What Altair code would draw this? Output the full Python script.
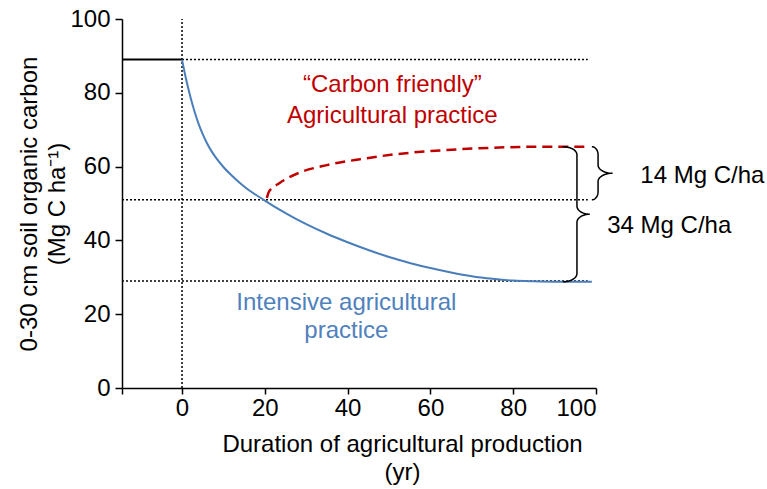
import altair as alt
import numpy as np
import pandas as pd

# Intensive agricultural practice (blue solid)
blue_x = [0, 1, 2, 3, 4, 5, 6, 7, 8, 10, 12, 15, 20, 25, 30, 35, 40, 45, 50, 55, 60, 65, 70, 75, 80, 85, 90, 95, 99]
blue_y = [89, 83.6, 79.0, 75.0, 71.6, 68.8, 66.4, 64.4, 62.7, 59.9, 57.6, 54.6, 50.8, 47.4, 44.4, 41.8, 39.5, 37.4, 35.5, 33.9, 32.5, 31.3, 30.3, 29.6, 29.1, 28.9, 28.8, 28.8, 28.8]

# "Carbon friendly" practice (red dashed)
red_x = [20.5, 21, 23.5, 28, 35, 43, 52, 64, 75, 86, 98]
red_y = [51.5, 53.2, 55.5, 58.2, 60.4, 62, 63.4, 64.5, 65.1, 65.4, 65.4]

# Pre-conversion level (black solid)
pre_x = [-14.5, 0]
pre_y = [89, 89]

# Dotted reference lines
h_y = [89, 51, 29]
h_x1 = [0, -14.5, -14.5]
h_x2 = [98, 98, 98]
v_x = [0]

# Annotations
ann_text = ["\u201cCarbon friendly\u201d", "Agricultural practice", "Intensive agricultural", "practice"]
ann_x = [50.8, 50.8, 39.7, 39.7]
ann_y = [82.1, 73.7, 23.0, 15.4]
ann_col = ["#C00000", "#C00000", "#4F81BD", "#4F81BD"]

brace_labels = ["14 Mg C/ha", "34 Mg C/ha"]
brace_lab_x = [110.7, 102.7]
brace_lab_y = [57.5, 43.9]
brace_top = [65.4, 65.4]
brace_bot = [51, 28.8]
brace_xend = [99, 92]
brace_xspine = [100.5, 95.4]
brace_xtip = [104, 98.5]

x_dom = [-14.5, 100]
y_dom = [0, 100]


def brace_points(x_end, x_spine, x_tip, y_top, y_bot, ry=2.2, n=12):
    ym = (y_top + y_bot) / 2
    rx1 = x_spine - x_end
    rx2 = x_tip - x_spine
    xs, ys = [], []
    t = np.linspace(np.pi / 2, 0, n)
    xs += list(x_end + rx1 * np.cos(t)); ys += list(y_top - ry + ry * np.sin(t))
    t = np.linspace(np.pi, 1.5 * np.pi, n)
    xs += list(x_tip + rx2 * np.cos(t)); ys += list(ym + ry + ry * np.sin(t))
    t = np.linspace(0.5 * np.pi, np.pi, n)
    xs += list(x_tip + rx2 * np.cos(t)); ys += list(ym - ry + ry * np.sin(t))
    t = np.linspace(0, -0.5 * np.pi, n)
    xs += list(x_end + rx1 * np.cos(t)); ys += list(y_bot + ry + ry * np.sin(t))
    return xs, ys


rows = []
for i in range(len(brace_top)):
    bx, by = brace_points(brace_xend[i], brace_xspine[i], brace_xtip[i], brace_top[i], brace_bot[i])
    for k, (a, b) in enumerate(zip(bx, by)):
        rows.append({"x": a, "y": b, "id": i, "o": k})
brace_df = pd.DataFrame(rows)

FONT = "Liberation Sans"
FS = 24
xs = alt.Scale(domain=x_dom, nice=False, zero=False)
ys = alt.Scale(domain=y_dom, nice=False, zero=False)

blue_df = pd.DataFrame({"x": blue_x, "y": blue_y})
red_df = pd.DataFrame({"x": red_x, "y": red_y})
pre_df = pd.DataFrame({"x": pre_x, "y": pre_y})
h_df = pd.DataFrame({"y": h_y, "x1": h_x1, "x2": h_x2})
v_df = pd.DataFrame({"x": v_x, "y1": [0], "y2": [100]})
ann_df = pd.DataFrame({"t": ann_text, "x": ann_x, "y": ann_y, "c": ann_col})
blab_df = pd.DataFrame({"t": brace_labels, "x": brace_lab_x, "y": brace_lab_y})

x_axis = alt.Axis(
    values=[-14.5, 0, 20, 40, 60, 80, 100],
    labelExpr="datum.value < 0 ? '' : datum.label",
    title=["Duration of agricultural production", "(yr)"],
    titleX=280, titleY=63, titleAlign="center", titleBaseline="alphabetic",
    titleLineHeight=28, tickSize=6, labelPadding=2,
)
y_axis = alt.Axis(
    values=[0, 20, 40, 60, 80, 100],
    title=["0-30 cm soil organic carbon", "(Mg C ha\u207b\u00b9)"],
    titleX=-86, titleY=184.5, titleAngle=270, titleAlign="center", titleBaseline="alphabetic",
    titleLineHeight=28, tickSize=7, labelPadding=5,
)

hlines = alt.Chart(h_df).mark_rule(color="black", strokeDash=[2, 2], strokeWidth=1.5).encode(
    x=alt.X("x1:Q", scale=xs, axis=x_axis), x2="x2:Q",
    y=alt.Y("y:Q", scale=ys, axis=y_axis),
)
vline = alt.Chart(v_df).mark_rule(color="black", strokeDash=[2, 2], strokeWidth=1.5).encode(
    x=alt.X("x:Q", scale=xs), y=alt.Y("y1:Q", scale=ys), y2="y2:Q",
)
pre = alt.Chart(pre_df).mark_line(color="black", strokeWidth=2).encode(
    x=alt.X("x:Q", scale=xs), y=alt.Y("y:Q", scale=ys),
)
blue = alt.Chart(blue_df).mark_line(color="#4A7EBB", strokeWidth=2, interpolate="monotone").encode(
    x=alt.X("x:Q", scale=xs), y=alt.Y("y:Q", scale=ys),
)
red = alt.Chart(red_df).mark_line(color="#C00000", strokeWidth=2.5, strokeDash=[10, 6], interpolate="monotone").encode(
    x=alt.X("x:Q", scale=xs), y=alt.Y("y:Q", scale=ys),
)
braces = alt.Chart(brace_df).mark_line(color="black", strokeWidth=1.5).encode(
    x=alt.X("x:Q", scale=xs), y=alt.Y("y:Q", scale=ys), detail="id:N", order="o:Q",
)
ann = alt.Chart(ann_df).mark_text(font=FONT, fontSize=FS, align="center", baseline="middle").encode(
    x=alt.X("x:Q", scale=xs), y=alt.Y("y:Q", scale=ys), text="t:N",
    color=alt.Color("c:N", scale=None),
)
blab = alt.Chart(blab_df).mark_text(font=FONT, fontSize=FS, align="left", baseline="middle", color="black").encode(
    x=alt.X("x:Q", scale=xs), y=alt.Y("y:Q", scale=ys), text="t:N",
)

chart = alt.layer(hlines, vline, pre, blue, red, braces, ann, blab).properties(
    width=474, height=369,
    autosize=alt.AutoSizeParams(type="none"),
    padding={"left": 122, "top": 19, "right": 171, "bottom": 101},
).configure_view(stroke=None).configure_axis(
    grid=False, domainColor="black", domainWidth=1.5, tickColor="black", tickWidth=1.5,
    labelFont=FONT, labelFontSize=FS, labelColor="black",
    titleFont=FONT, titleFontSize=FS, titleFontWeight="normal", titleColor="black",
)

chart.save("out.html", embed_options={"renderer": "svg", "actions": False})
